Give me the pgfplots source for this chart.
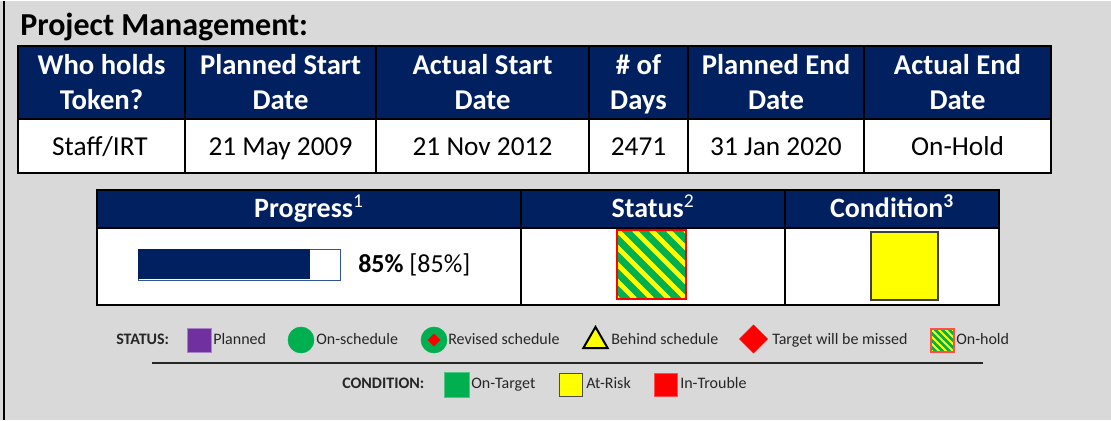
\documentclass[border=0pt]{standalone}
\usepackage{pgfplots}
\pgfplotsset{compat=1.18}
\usepackage{fontspec}
\setmainfont{Carlito}
\definecolor{navy}{HTML}{002060}
\definecolor{bg}{HTML}{D9D9D9}
\definecolor{xgreen}{HTML}{00B050}
\definecolor{xyellow}{HTML}{FFFF00}
\definecolor{xred}{HTML}{FF0000}
\definecolor{xpurple}{HTML}{7030A0}
\definecolor{bartrim}{HTML}{2F5597}
\definecolor{legtext}{HTML}{262626}
\begin{document}
\begin{tikzpicture}
% ---------- pixel-coordinate scope (1 px = 0.75 pt, y downwards)
\begin{scope}[shift={(0pt,314.25pt)}, x=0.75pt, y=-0.75pt]
\fill[bg] (0,0) rectangle (1111,419);
\draw[black, line width=1.5pt] (4,0) -- (4,419);
% title
\node[anchor=base west, inner sep=0pt, font=\fontsize{24}{28}\selectfont\bfseries] at (20,35) {Project Management:};
% top table
\fill[navy] (18,45) rectangle (1051,118);
\fill[white] (18,118) rectangle (1051,172);
\draw[black, line width=1.5pt] (18,45) rectangle (1051,172);
\draw[black, line width=1.5pt] (18,118) -- (1051,118);
\foreach \xx in {185,376,589,688,864} \draw[black, line width=1.5pt] (\xx,45) -- (\xx,172);
\begin{scope}[every node/.style={anchor=base, inner sep=0pt, text=white, font=\fontsize{21.5}{25}\selectfont\bfseries}]
\node at (101.5,74) {Who holds};   \node at (101.5,109) {Token?};
\node at (280.5,74) {Planned Start}; \node at (280.5,109) {Date};
\node at (482.5,74) {Actual Start};  \node at (482.5,109) {Date};
\node at (638.5,74) {\# of};         \node at (638.5,109) {Days};
\node at (776,74) {Planned End};     \node at (776,109) {Date};
\node at (957.5,74) {Actual End};    \node at (957.5,109) {Date};
\end{scope}
\begin{scope}[every node/.style={anchor=base, inner sep=0pt, text=black, font=\fontsize{20.5}{24}\selectfont}]
\node at (100,155) {Staff/IRT};
\node at (280.5,155) {21 May 2009};
\node at (482.5,155) {21 Nov 2012};
\node at (638.5,155) {2471};
\node at (776,155) {31 Jan 2020};
\node at (957.5,155) {On-Hold};
\end{scope}
% second table
\fill[navy] (97,189) rectangle (999,227);
\fill[white] (97,227) rectangle (999,304);
\draw[black, line width=1.5pt] (97,189) rectangle (999,304);
\draw[black, line width=1.5pt] (97,227) -- (999,227);
\draw[black, line width=1.5pt] (521,189) -- (521,304);
\draw[black, line width=1.5pt] (785,189) -- (785,304);
\begin{scope}[every node/.style={anchor=base, inner sep=0pt, text=white, font=\fontsize{21}{24}\selectfont\bfseries}]
\node at (309,217) {Progress\textsuperscript{\mdseries 1}};
\node at (653,217) {Status\textsuperscript{\mdseries 2}};
\node at (892,217) {Condition\textsuperscript{3}};
\end{scope}
% progress box background
\fill[white] (138,248) rectangle (340,279);
\draw[bartrim, line width=0.6pt] (138,248) rectangle (340,279);
\node[anchor=base west, inner sep=0pt, font=\fontsize{19.5}{23}\selectfont] at (358,272) {\textbf{85\%} [85\%]};
% status on-hold square
\begin{scope}
\clip (617,229) rectangle (686,298);
\fill[xgreen] (617,229) rectangle (686,298);
\foreach \k in {-102,-85,...,85} \draw[xyellow, line width=3.6pt] ({617+\k},229) -- ({617+\k+69},298);
\end{scope}
\draw[xred, line width=1.5pt] (617,229) rectangle (686,298);
% condition square
\fill[xyellow] (871,231) rectangle (938,299);
\draw[black!75, line width=1.5pt] (871,231) rectangle (938,299);
% legend texts
\begin{scope}[every node/.style={anchor=base west, inner sep=0pt, text=legtext, font=\fontsize{12}{14}\selectfont}]
\node[font=\fontsize{12}{14}\selectfont\bfseries] at (116,344) {STATUS:};
\node at (213,344) {Planned};
\node at (316,344) {On-schedule};
\node at (448,344) {Revised schedule};
\node at (611,344) {Behind schedule};
\node at (772,344) {Target will be missed};
\node at (956,344) {On-hold};
\node[font=\fontsize{12}{14}\selectfont\bfseries] at (342,388) {CONDITION:};
\node at (471,388) {On-Target};
\node at (586,388) {At-Risk};
\node at (680,388) {In-Trouble};
\end{scope}
% on-hold legend square
\begin{scope}
\clip (931,328) rectangle (954,351);
\fill[xgreen] (931,328) rectangle (954,351);
\foreach \k in {-35,-28,...,28} \draw[xyellow, line width=1.4pt] ({931+\k},328) -- ({931+\k+23},351);
\end{scope}
\draw[xred!70, line width=0.8pt] (931,328) rectangle (954,351);
% separator
\draw[black!85, line width=0.9pt] (152,362) -- (983,362);
\end{scope}
% ---------- legend symbols through an invisible pixel axis
\begin{axis}[at={(0pt,0pt)}, anchor=south west, scale only axis,
  width=833.25pt, height=314.25pt, xmin=0, xmax=1111, ymin=0, ymax=419,
  y dir=reverse, axis lines=none, ticks=none, clip=false]
\addplot[only marks, mark=square*, mark size=9pt, mark options={fill=xpurple, draw=xpurple!60}] coordinates {(199,339.5)};
\addplot[only marks, mark=*, mark size=9.75pt, mark options={fill=xgreen, draw=xgreen}] coordinates {(301,339) (434,339)};
\addplot[only marks, mark=diamond*, mark size=4.5pt, mark options={fill=xred, draw=xred, xscale=1.333}] coordinates {(434,339)};
\addplot[only marks, mark=triangle*, mark size=10.5pt, mark options={fill=xyellow, draw=black, line width=1.5pt}] coordinates {(595.5,340)};
\addplot[only marks, mark=diamond*, mark size=10.5pt, mark options={fill=xred, draw=xred, xscale=1.333}] coordinates {(753.5,338)};
\addplot[only marks, mark=square*, mark size=9.2pt, mark options={fill=xgreen, draw=xgreen!70}] coordinates {(456.5,383.5)};
\addplot[only marks, mark=square*, mark size=8.8pt, mark options={fill=xyellow, draw=black!70}] coordinates {(571,383.5)};
\addplot[only marks, mark=square*, mark size=8.8pt, mark options={fill=xred, draw=xred!70}] coordinates {(665.5,383.5)};
\end{axis}
% ---------- progress bar (85 of 100)
\begin{axis}[at={(103.5pt,105pt)}, anchor=south west, scale only axis,
  width=151.5pt, height=23.25pt, xmin=0, xmax=100, ymin=0.5, ymax=1.5,
  axis lines=none, ticks=none, xbar, bar width=22.5pt, clip=false]
\addplot[fill=navy, draw=none] coordinates {(85,1)};
\end{axis}
\end{tikzpicture}
\end{document}
